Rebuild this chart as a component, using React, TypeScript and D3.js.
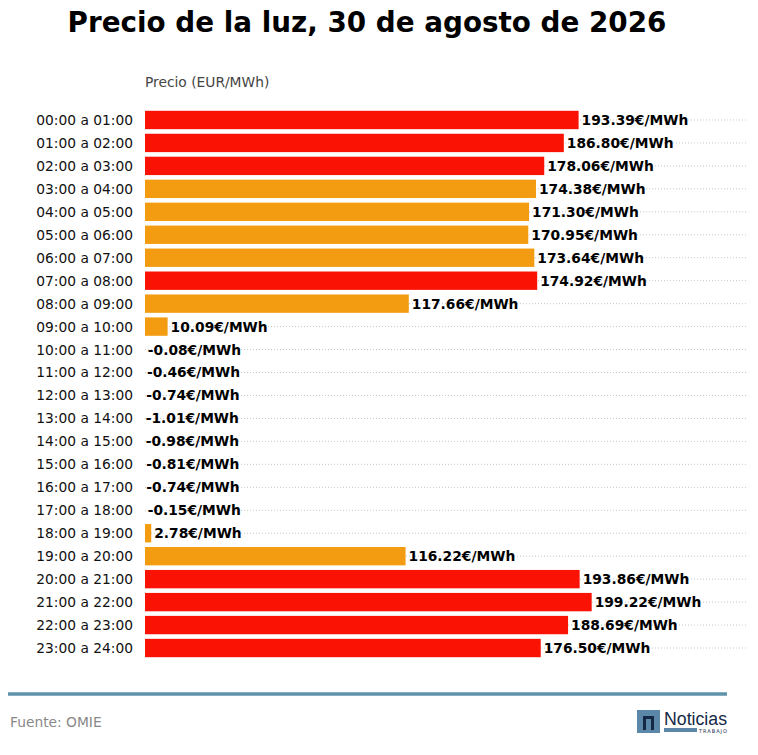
import { useEffect, useRef } from 'react'
import * as d3 from 'd3'

const hours = [
  '00:00 a 01:00', '01:00 a 02:00', '02:00 a 03:00', '03:00 a 04:00',
  '04:00 a 05:00', '05:00 a 06:00', '06:00 a 07:00', '07:00 a 08:00',
  '08:00 a 09:00', '09:00 a 10:00', '10:00 a 11:00', '11:00 a 12:00',
  '12:00 a 13:00', '13:00 a 14:00', '14:00 a 15:00', '15:00 a 16:00',
  '16:00 a 17:00', '17:00 a 18:00', '18:00 a 19:00', '19:00 a 20:00',
  '20:00 a 21:00', '21:00 a 22:00', '22:00 a 23:00', '23:00 a 24:00'
]

const prices = [
  193.39, 186.8, 178.06, 174.38, 171.3, 170.95, 173.64, 174.92,
  117.66, 10.09, -0.08, -0.46, -0.74, -1.01, -0.98, -0.81,
  -0.74, -0.15, 2.78, 116.22, 193.86, 199.22, 188.69, 176.5
]

// 'p' = punta (rojo), 'l' = llano (naranja)
const periods = [
  'p', 'p', 'p', 'l', 'l', 'l', 'l', 'p',
  'l', 'l', 'l', 'l', 'l', 'l', 'l', 'l',
  'l', 'l', 'l', 'l', 'p', 'p', 'p', 'p'
]

const title = 'Precio de la luz, 30 de agosto de 2026'
const axisTitle = 'Precio (EUR/MWh)'
const source = 'Fuente: OMIE'

const width = 758
const height = 755
const font = 'DejaVu Sans, sans-serif'

export default function App() {
  const svgRef = useRef<SVGSVGElement>(null)

  useEffect(() => {
    if (!svgRef.current) return
    const svg = d3.select(svgRef.current)
    svg.selectAll('*').remove()

    const margin = { left: 145, right: 10, top: 108.5, bottom: 95.5 }
    const maxVal = d3.max(prices) || 200

    const x = d3.scaleLinear()
      .domain([0, maxVal * 1.35])
      .range([margin.left, width - margin.right])

    const y = d3.scaleBand<string>()
      .domain(hours)
      .range([margin.top, height - margin.bottom])
      .paddingInner(0.2)
      .paddingOuter(0.1)

    const colors: Record<string, string> = { p: '#fa1204', l: '#f39c12' }

    // Title
    svg.append('text')
      .attr('x', 367)
      .attr('y', 32)
      .attr('text-anchor', 'middle')
      .style('font-family', font)
      .style('font-weight', 'bold')
      .style('font-size', '27.8px')
      .style('fill', '#000')
      .text(title)

    svg.append('text')
      .attr('x', margin.left)
      .attr('y', 87)
      .style('font-family', font)
      .style('font-size', '13.8px')
      .style('fill', '#444')
      .text(axisTitle)

    // Gridlines
    hours.forEach(h => {
      const cy = (y(h) || 0) + y.bandwidth() / 2
      svg.append('line')
        .attr('x1', margin.left)
        .attr('x2', width - margin.right)
        .attr('y1', cy)
        .attr('y2', cy)
        .style('stroke', '#b8b8b8')
        .style('stroke-width', '0.8px')
        .style('stroke-dasharray', '1,2')
    })

    // Bars
    svg.selectAll('rect.bar')
      .data(prices)
      .enter()
      .append('rect')
      .attr('class', 'bar')
      .attr('x', x(0))
      .attr('y', (_, i) => y(hours[i]) || 0)
      .attr('width', d => Math.max(0, x(d) - x(0)))
      .attr('height', y.bandwidth())
      .style('fill', (_, i) => colors[periods[i]])

    // Category labels
    hours.forEach(h => {
      svg.append('text')
        .attr('x', 133)
        .attr('y', (y(h) || 0) + y.bandwidth() / 2)
        .attr('dy', '0.36em')
        .attr('text-anchor', 'end')
        .style('font-family', font)
        .style('font-size', '13.8px')
        .style('fill', '#111')
        .text(h)
    })

    // Value labels
    prices.forEach((v, i) => {
      svg.append('text')
        .attr('x', x(v) + 3)
        .attr('y', (y(hours[i]) || 0) + y.bandwidth() / 2)
        .attr('dy', '0.36em')
        .style('font-family', font)
        .style('font-weight', 'bold')
        .style('font-size', '13.8px')
        .style('fill', '#000')
        .text(`${v.toFixed(2)}€/MWh`)
    })

    // Footer
    svg.append('line')
      .attr('x1', 8)
      .attr('x2', 727)
      .attr('y1', 694)
      .attr('y2', 694)
      .style('stroke', '#5f93ab')
      .style('stroke-width', '3.5px')

    svg.append('text')
      .attr('x', 10)
      .attr('y', 727)
      .style('font-family', font)
      .style('font-size', '13.8px')
      .style('fill', '#888')
      .text(source)

    // Logo
    const logo = svg.append('g').attr('transform', 'translate(637,710)')
    logo.append('rect')
      .attr('width', 23).attr('height', 23)
      .style('fill', '#5b87a8')
    logo.append('path')
      .attr('d', 'M6,20 V6 H17 V20 H14 V9 H9 V20 Z')
      .style('fill', '#142846')
    logo.append('text')
      .attr('x', 27).attr('y', 15)
      .style('font-family', 'Liberation Sans Narrow, Liberation Sans, sans-serif')
      .style('font-size', '18px')
      .style('fill', '#142846')
      .attr('textLength', 63)
      .attr('lengthAdjust', 'spacingAndGlyphs')
      .text('Noticias')
    logo.append('rect')
      .attr('x', 27).attr('y', 18).attr('width', 33).attr('height', 4)
      .style('fill', '#5b87a8')
    logo.append('text')
      .attr('x', 62).attr('y', 23)
      .style('font-family', font)
      .style('font-size', '5px')
      .style('fill', '#142846')
      .attr('textLength', 28)
      .text('TRABAJO')
  }, [])

  return (
    <svg
      ref={svgRef}
      width={width}
      height={height}
      style={{ position: 'absolute', left: 0, top: 0, background: '#fff' }}
    />
  )
}
